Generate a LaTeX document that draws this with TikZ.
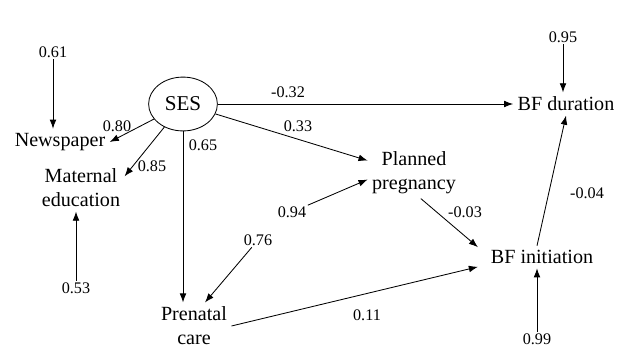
\documentclass[tikz,border=0pt]{standalone}
\usepackage{fontspec}
\setmainfont{Liberation Serif}
\usetikzlibrary{arrows.meta,shapes.geometric}

\begin{document}
\begin{tikzpicture}[x=0.025cm,y=-0.025cm,
 v/.style={inner sep=3pt,align=center,font=\fontsize{14.3}{17}\selectfont},
 c/.style={inner sep=1pt,font=\fontsize{11.5}{13}\selectfont},
 a/.style={-{Latex[length=6.5pt,width=4.8pt]},line width=.6pt}]
\useasboundingbox (0,0) rectangle (623,349);
\node[ellipse,draw,line width=.6pt,minimum width=48.9pt,minimum height=38.3pt,inner sep=0pt,font=\fontsize{15}{17}\selectfont] (ses) at (183,104) {SES};
\node[v] (news) at (60,142) {Newspaper};
\node[v] (mat) at (81,188) {Maternal\\education};
\node[v] (pren) at (194,326) {Prenatal\\care};
\node[v] (plan) at (414,173) {Planned\\pregnancy};
\node[v] (dur) at (566,104) {BF duration};
\node[v] (ini) at (542,257) {BF initiation};
% error terms
\node[c] (e61) at (53,52) {0.61};
\node[c] (e53) at (76,288) {0.53};
\node[c] (e76) at (258,240) {0.76};
\node[c] (e94) at (292,212) {0.94};
\node[c] (e95) at (563,37) {0.95};
\node[c] (e99) at (537,339) {0.99};
% path coefficients
\node[c] (l80) at (117,126) {0.80};
\node[c] (l85) at (152,166) {0.85};
\node[c] (l65) at (203,145) {0.65};
\node[c] (l32) at (288,92) {-0.32};
\node[c] (l33) at (298,126) {0.33};
\node[c] (l03) at (465,212) {-0.03};
\node[c] (l04) at (587,193) {-0.04};
\node[c] (l11) at (367,315) {0.11};
\draw[a] (e61) -- (e61 |- news.north);
\draw[a] (e53) -- (e53 |- mat.south);
\draw[a] (ses) -- (news.east);
\draw[a] (ses) -- (mat.15);
\draw[a] (ses) -- (ses |- pren.north);
\draw[a] (ses) -- (plan.165);
\draw[a] (ses) -- (dur);
\draw[a] (e76) -- (pren.65);
\draw[a] (e94) -- (plan.188);
\draw[a] (plan.-75) -- ([xshift=-6pt]ini.170);
\draw[a] (pren.east) -- ([xshift=-6pt]ini.190);
\draw[a] (e99) -- (e99 |- ini.south);
\draw[a] (e99 |- ini.north) -- (dur.south);
\draw[a] (e95) -- (e95 |- dur.north);
\end{tikzpicture}
\end{document}
